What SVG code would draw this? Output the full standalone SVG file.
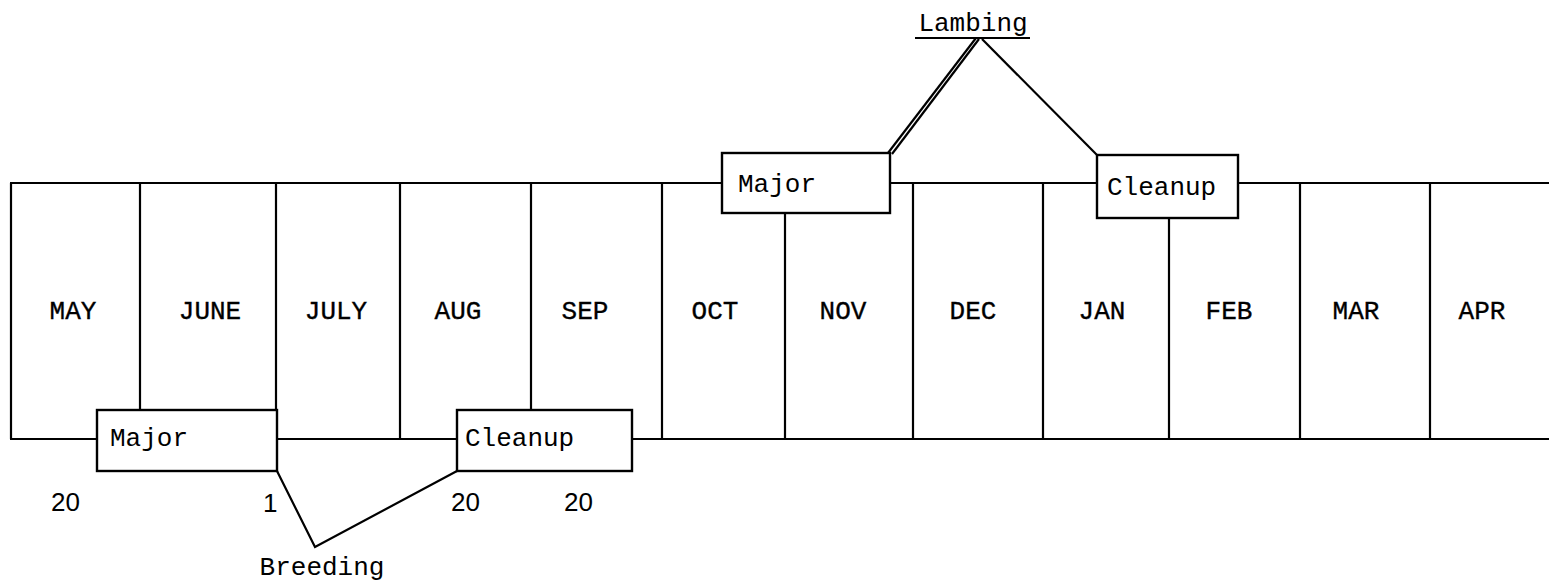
<svg xmlns="http://www.w3.org/2000/svg" width="1549" height="583" viewBox="0 0 1549 583">
<style>
.ln{stroke:#000;stroke-width:2.2;fill:none}
.bx{stroke:#000;stroke-width:2.4;fill:#fff}
.tw{font-family:"Liberation Mono","DejaVu Sans Mono",monospace;font-size:26px;fill:#000}
.mo{font-family:"Liberation Mono","DejaVu Sans Mono",monospace;font-size:26px;fill:#000;stroke:#000;stroke-width:0.35;text-anchor:middle}
.nm{font-family:"Liberation Sans",Arial,sans-serif;font-size:26px;fill:#000}
</style>
<rect width="1549" height="583" fill="#fff"/>
<g id="connectors">
<path class="ln" d="M10 183 H722 M890 183 H1097 M1238 183 H1549"/>
<path class="ln" d="M10 439 H97 M277 439 H457 M632 439 H1549"/>
<path class="ln" d="M11 183 V439 M140 183 V410 M276 183 V471 M400 183 V439 M531 183 V410 M662 183 V439 M785 213 V439 M913 183 V439 M1043 183 V439 M1169 218 V439 M1300 183 V439 M1430 183 V439"/>
<path class="ln" d="M888 153 L976 38" stroke-width="1"/>
<path class="ln" d="M892 154 L979 39" stroke-width="1"/>
<path class="ln" d="M982 39 L1097 155" stroke-width="2.8"/>
<path class="ln" d="M277 471 L315 547 L457 471" stroke-width="2.8"/>
<path class="ln" d="M915 38 H1030" stroke-width="1.8"/>
</g>
<g id="months">
<text class="mo" x="73" y="319">MAY</text>
<text class="mo" x="210" y="319">JUNE</text>
<text class="mo" x="336" y="319">JULY</text>
<text class="mo" x="458" y="319">AUG</text>
<text class="mo" x="585" y="319">SEP</text>
<text class="mo" x="715" y="319">OCT</text>
<text class="mo" x="843" y="319">NOV</text>
<text class="mo" x="973" y="319">DEC</text>
<text class="mo" x="1102" y="319">JAN</text>
<text class="mo" x="1229" y="319">FEB</text>
<text class="mo" x="1356" y="319">MAR</text>
<text class="mo" x="1482" y="319">APR</text>
</g>
<g id="lambing-major">
<rect class="bx" x="722" y="153" width="168" height="60"/>
<text class="tw" x="738" y="192">Major</text>
</g>
<g id="lambing-cleanup">
<rect class="bx" x="1097" y="155" width="141" height="63"/>
<text class="tw" x="1107" y="195">Cleanup</text>
</g>
<g id="breeding-major">
<rect class="bx" x="97" y="410" width="180" height="61"/>
<text class="tw" x="110" y="446">Major</text>
</g>
<g id="breeding-cleanup">
<rect class="bx" x="457" y="410" width="175" height="61"/>
<text class="tw" x="465" y="446">Cleanup</text>
</g>
<g id="lambing">
<text class="tw" x="973" y="31" text-anchor="middle">Lambing</text>
</g>
<g id="breeding">
<text class="tw" x="322" y="575" text-anchor="middle">Breeding</text>
</g>
<g id="dates">
<text class="nm" x="51" y="511">20</text>
<text class="nm" x="263" y="512">1</text>
<text class="nm" x="451" y="511">20</text>
<text class="nm" x="564" y="511">20</text>
</g>
</svg>
